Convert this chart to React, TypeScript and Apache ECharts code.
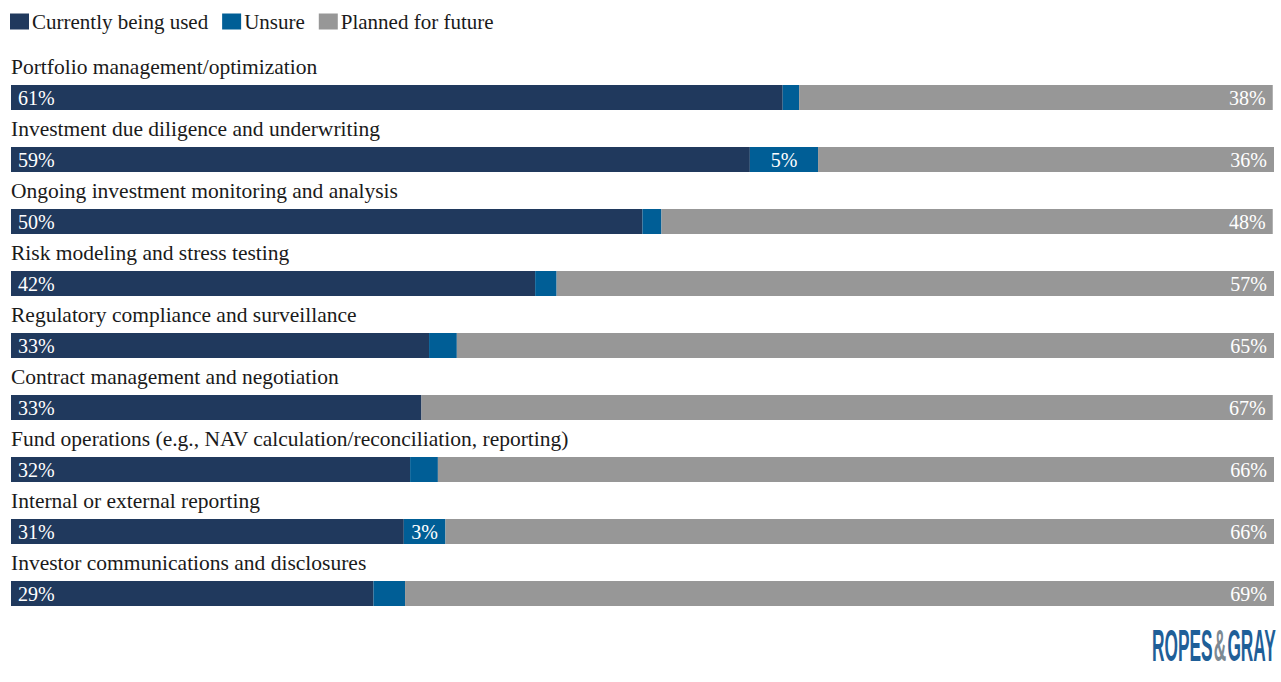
import React, { useEffect, useRef } from "react";
import * as echarts from "echarts";

const categories = [
  "Portfolio management/optimization",
  "Investment due diligence and underwriting",
  "Ongoing investment monitoring and analysis",
  "Risk modeling and stress testing",
  "Regulatory compliance and surveillance",
  "Contract management and negotiation",
  "Fund operations (e.g., NAV calculation/reconciliation, reporting)",
  "Internal or external reporting",
  "Investor communications and disclosures",
];

const currentlyUsed = [61.1, 58.5, 50.0, 41.5, 33.1, 32.5, 31.6, 31.1, 28.7];
const unsure = [1.3, 5.4, 1.5, 1.7, 2.2, 0, 2.2, 3.3, 2.5];
const plannedForFuture = [37.5, 36.1, 48.4, 56.8, 64.7, 67.4, 66.2, 65.6, 68.8];

const seriesNames = ["Currently being used", "Unsure", "Planned for future"];
const colors = ["#20395d", "#005e96", "#979797"];

const SERIF = "'Liberation Serif', 'DejaVu Serif', serif";

export default function App() {
  const ref = useRef<HTMLDivElement>(null);

  useEffect(() => {
    document.body.style.margin = "0";
    if (!ref.current) return;
    const chart = echarts.init(ref.current, undefined, { renderer: "svg" });

    const labelBase = {
      show: true,
      color: "#ffffff",
      fontFamily: SERIF,
      fontSize: 20,
      formatter: (p: any) => Math.round(p.value) + "%",
    };

    chart.setOption({
      animation: false,
      color: colors,
      textStyle: { fontFamily: SERIF },
      legend: {
        left: 10,
        top: 11,
        padding: 0,
        itemWidth: 19,
        itemHeight: 16,
        itemGap: 14,
        icon: "rect",
        textStyle: { fontFamily: SERIF, fontSize: 21, color: "#1a1a1a", padding: [0, 0, 0, -2] },
        data: seriesNames,
      },
      grid: { left: 11, right: 7, top: 66.5, bottom: 57.5, containLabel: false },
      xAxis: {
        type: "value",
        min: 0,
        max: 100,
        show: false,
        splitLine: { show: false },
      },
      yAxis: {
        type: "category",
        inverse: true,
        data: categories,
        axisLine: { show: false },
        axisTick: { show: false },
        axisLabel: {
          inside: true,
          margin: 0,
          align: "left",
          verticalAlign: "bottom",
          padding: [0, 0, 20, 0],
          fontFamily: SERIF,
          fontSize: 21.5,
          color: "#1a1a1a",
        },
      },
      series: [
        {
          name: seriesNames[0],
          type: "bar",
          stack: "total",
          barWidth: 25,
          data: currentlyUsed,
          label: { ...labelBase, position: "insideLeft", distance: 7 },
        },
        {
          name: seriesNames[1],
          type: "bar",
          stack: "total",
          barWidth: 25,
          data: unsure,
          label: {
            ...labelBase,
            position: "inside",
            formatter: (p: any) => (p.value >= 3 ? Math.round(p.value) + "%" : ""),
          },
        },
        {
          name: seriesNames[2],
          type: "bar",
          stack: "total",
          barWidth: 25,
          data: plannedForFuture,
          label: { ...labelBase, position: "insideRight", distance: 7 },
        },
      ],
      graphic: [
        {
          type: "text",
          x: 1152,
          y: 646,
          scaleX: 0.393,
          style: {
            text: "{b|ROPES}{g|&}{b|GRAY}",
            verticalAlign: "middle",
            align: "left",
            rich: {
              b: { fontFamily: "'Liberation Sans', Arial, sans-serif", fontSize: 44, fill: "#1f5f98", fontWeight: "bold" },
              g: { fontFamily: "'Liberation Sans', Arial, sans-serif", fontSize: 44, fill: "#7d8a93", fontWeight: "bold", padding: [0, 3, 0, 3] },
            },
          },
        },
      ],
    });

    return () => chart.dispose();
  }, []);

  return <div ref={ref} style={{ width: 1281, height: 682 }} />;
}
